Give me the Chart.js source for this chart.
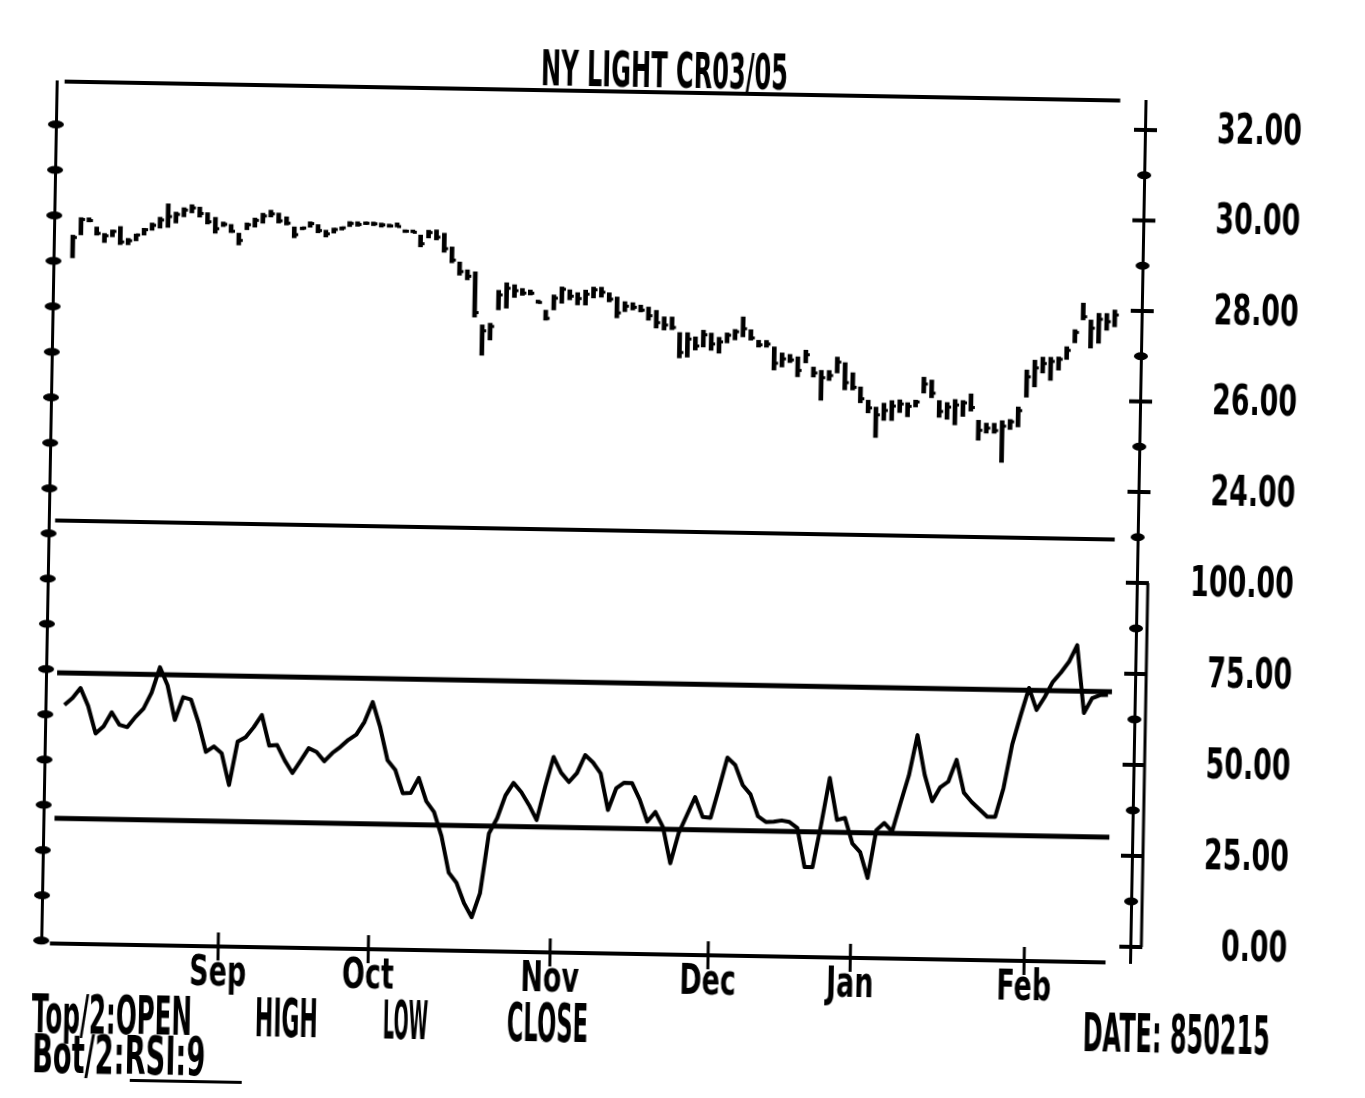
<!DOCTYPE html>
<html>
<head>
<meta charset="utf-8">
<title>NY LIGHT CR03/05</title>
<script src="https://cdn.jsdelivr.net/npm/chart.js@4.4.1/dist/chart.umd.min.js"></script>
<style>
  html, body { margin: 0; padding: 0; background: #fff; overflow: hidden; }
  /* the printout sits a little crooked on the scanner */
  #sheet { position: absolute; left: 0; top: 0; width: 1365px; height: 1098px;
    transform: rotate(1.03deg); transform-origin: 1145px 130px; }
  #myChart { position: absolute; left: 0; top: 0; }
  .txt { position: absolute; font-family: "DejaVu Sans", sans-serif;
    font-weight: bold; color: #000; line-height: 1; white-space: pre; transform-origin: 0 0; }
  .rule { position: absolute; background: #000; }
</style>
</head>
<body>
<div id="sheet">
  <canvas id="myChart" width="1365" height="1098"></canvas>
  <div class="txt" data-w="247" style="left:540px;top:54px;font-size:50px">NY LIGHT CR03/05</div>
  <div class="txt" data-w="160" style="left:48px;top:1007px;font-size:53px">Top/2:OPEN</div>
  <div class="txt" data-w="63" style="left:271px;top:1007px;font-size:53px">HIGH</div>
  <div class="txt" data-w="45" style="left:399px;top:1007px;font-size:53px">LOW</div>
  <div class="txt" data-w="81" style="left:523px;top:1007px;font-size:53px">CLOSE</div>
  <div class="txt" data-w="187" style="left:1099px;top:1007px;font-size:53px">DATE: 850215</div>
  <div class="txt" data-w="173" style="left:49px;top:1047px;font-size:53px">Bot/2:RSI:9</div>
  <div class="rule" style="left:147px;top:1097px;width:112px;height:3px"></div>
</div>

<script>
'use strict';

// x axis: month names and the bar index where each month starts
const monthNames = ['Sep', 'Oct', 'Nov', 'Dec', 'Jan', 'Feb'];
const monthStarts = [20, 39, 62, 82, 100, 122];
// y ticks
const priceTicks = [23, 24, 25, 26, 27, 28, 29, 30, 31, 32];
const rsiTicks = [0, 12.5, 25, 37.5, 50, 62.5, 75, 87.5, 100];
const rsiBands = [70, 30];

// daily bars, Aug 84 to 850215
const highs = [
  29.25, 29.64, 29.64, 29.44, 29.30, 29.38, 29.46, 29.20, 29.30, 29.43,
  29.55, 29.68, 29.98, 29.80, 29.90, 29.97, 29.92, 29.80, 29.70, 29.60,
  29.55, 29.36, 29.59, 29.70, 29.81, 29.88, 29.82, 29.74, 29.52, 29.52,
  29.64, 29.58, 29.46, 29.51, 29.54, 29.66, 29.66, 29.66, 29.66, 29.64,
  29.62, 29.65, 29.50, 29.50, 29.39, 29.50, 29.51, 29.44, 29.14, 28.81,
  28.64, 28.60, 27.43, 27.47, 28.20, 28.37, 28.33, 28.25, 28.22, 28.00,
  27.78, 28.12, 28.30, 28.24, 28.18, 28.24, 28.31, 28.31, 28.19, 28.10,
  28.00, 27.98, 27.93, 27.89, 27.82, 27.68, 27.68, 27.34, 27.34, 27.25,
  27.40, 27.34, 27.25, 27.35, 27.43, 27.71, 27.43, 27.20, 27.20, 27.06,
  26.93, 26.90, 26.85, 27.00, 26.63, 26.56, 26.56, 26.86, 26.74, 26.52,
  26.21, 25.92, 25.77, 25.86, 25.92, 25.94, 25.88, 25.94, 26.45, 26.39,
  25.94, 25.90, 25.97, 25.95, 26.10, 25.52, 25.46, 25.46, 25.52, 25.55,
  25.83, 26.65, 26.87, 26.94, 26.94, 26.95, 27.18, 27.56, 28.15, 27.78,
  27.93, 27.93, 28.01
];
const lows = [
  28.75, 29.26, 29.55, 29.26, 29.10, 29.23, 29.06, 29.06, 29.15, 29.28,
  29.39, 29.44, 29.46, 29.56, 29.70, 29.79, 29.70, 29.55, 29.35, 29.50,
  29.37, 29.10, 29.44, 29.50, 29.59, 29.73, 29.60, 29.56, 29.28, 29.46,
  29.52, 29.40, 29.31, 29.40, 29.47, 29.55, 29.56, 29.60, 29.58, 29.55,
  29.55, 29.56, 29.44, 29.44, 29.13, 29.33, 29.29, 29.02, 28.79, 28.52,
  28.42, 27.60, 26.76, 27.10, 27.77, 27.81, 28.05, 28.10, 28.11, 27.93,
  27.56, 27.79, 27.94, 28.02, 27.91, 27.91, 28.07, 28.09, 27.99, 27.64,
  27.78, 27.82, 27.78, 27.60, 27.43, 27.39, 27.40, 26.78, 26.80, 26.96,
  27.03, 26.96, 26.90, 27.13, 27.20, 27.27, 27.20, 27.05, 27.05, 26.55,
  26.62, 26.72, 26.41, 26.72, 26.41, 25.90, 26.34, 26.51, 26.14, 26.14,
  25.86, 25.64, 25.10, 25.48, 25.48, 25.66, 25.57, 25.79, 26.10, 26.00,
  25.57, 25.53, 25.41, 25.60, 25.72, 25.08, 25.24, 25.24, 24.60, 25.33,
  25.39, 26.05, 26.28, 26.59, 26.43, 26.66, 26.90, 27.27, 27.78, 27.16,
  27.27, 27.56, 27.64
];
const closes = [
  29.20, 29.60, 29.58, 29.30, 29.25, 29.35, 29.12, 29.15, 29.28, 29.40,
  29.50, 29.62, 29.70, 29.75, 29.85, 29.90, 29.78, 29.60, 29.45, 29.55,
  29.40, 29.20, 29.55, 29.65, 29.75, 29.80, 29.65, 29.60, 29.35, 29.50,
  29.60, 29.45, 29.38, 29.48, 29.52, 29.62, 29.60, 29.63, 29.62, 29.60,
  29.58, 29.57, 29.47, 29.45, 29.20, 29.45, 29.35, 29.10, 28.85, 28.60,
  28.50, 27.70, 27.30, 27.40, 28.10, 28.25, 28.20, 28.15, 28.15, 27.95,
  27.60, 28.05, 28.25, 28.10, 28.05, 28.15, 28.25, 28.20, 28.05, 27.75,
  27.90, 27.88, 27.82, 27.70, 27.55, 27.50, 27.45, 26.90, 27.20, 27.05,
  27.30, 27.10, 27.15, 27.30, 27.38, 27.45, 27.25, 27.10, 27.12, 26.70,
  26.80, 26.78, 26.55, 26.90, 26.50, 26.40, 26.45, 26.75, 26.30, 26.20,
  25.95, 25.75, 25.60, 25.70, 25.80, 25.85, 25.80, 25.90, 26.30, 26.10,
  25.70, 25.80, 25.85, 25.90, 25.80, 25.30, 25.35, 25.30, 25.40, 25.50,
  25.75, 26.50, 26.70, 26.80, 26.85, 26.90, 27.10, 27.50, 27.85, 27.60,
  27.80, 27.75, 27.90
];
// RSI:9 on the bottom panel
const rsi9 = [
  61.2, 63.1, 65.9, 61.0, 53.5, 55.5, 59.4, 56.0, 55.4, 58.2,
  60.5, 65.0, 72.0, 67.1, 57.6, 63.9, 63.3, 57.0, 49.0, 50.5,
  48.7, 40.0, 52.0, 53.2, 56.0, 59.4, 51.0, 51.2, 47.0, 43.6,
  47.0, 50.5, 49.5, 47.0, 49.3, 51.0, 53.0, 54.5, 58.0, 63.5,
  56.6, 47.6, 45.0, 38.6, 38.7, 42.9, 36.5, 33.6, 27.0, 17.0,
  14.3, 8.7, 4.9, 11.5, 28.0, 32.2, 38.5, 42.0, 39.5, 36.0,
  31.9, 41.0, 49.3, 45.0, 42.5, 45.0, 50.0, 48.0, 45.0, 35.0,
  41.0, 42.6, 42.5, 38.0, 32.0, 34.7, 30.6, 20.7, 29.0, 34.0,
  39.0, 33.6, 33.4, 41.5, 50.0, 48.0, 42.5, 40.0, 34.0, 32.5,
  32.6, 33.0, 32.6, 31.0, 20.3, 20.3, 32.0, 44.9, 33.4, 34.0,
  27.0, 24.7, 17.6, 30.8, 32.8, 30.5, 38.4, 46.0, 57.1, 46.2,
  39.0, 42.9, 44.5, 50.5, 41.5, 39.0, 37.0, 35.0, 35.0, 43.0,
  55.0, 63.0, 70.6, 64.6, 68.2, 72.4, 75.0, 78.0, 82.6, 64.0,
  68.1, 69.0, 69.1
];

// stretch the html labels to the width they have on the printout
document.querySelectorAll('.txt').forEach(function (el) {
  let w = Number(el.dataset.w);
  el.style.transform = 'scaleX(' + (w / el.offsetWidth) + ')';
});

// the plotter font is tall and narrow: a bold face squeezed sideways
const labelFont = 'bold 42px "DejaVu Sans", sans-serif';
const squeeze = 0.64;

let barData = [];
let rsiData = [];
for (let i = 0; i < highs.length; i++) {
  barData.push({ x: i, y: [lows[i], highs[i]] });
  rsiData.push({ x: i, y: rsi9[i] });
}

let bandSets = rsiBands.map(function (level) {
  return {
    type: 'line',
    yAxisID: 'yR',
    data: [{ x: -1, y: level }, { x: 132.5, y: level }],
    borderColor: '#000',
    borderWidth: 5,
    pointRadius: 0,
    clip: false
  };
});

function hline(ctx, x1, x2, y, w) {
  ctx.lineWidth = w;
  ctx.beginPath();
  ctx.moveTo(x1, y);
  ctx.lineTo(x2, y);
  ctx.stroke();
}

function blob(ctx, x, y, rx, ry) {
  ctx.beginPath();
  ctx.ellipse(x, y, rx, ry, 0, 0, Math.PI * 2);
  ctx.fill();
}

function squeezeText(ctx, text, x, y, align) {
  ctx.save();
  ctx.translate(x, y);
  ctx.scale(squeeze, 1);
  ctx.textAlign = align;
  ctx.textBaseline = 'middle';
  ctx.fillText(text, 0, 0);
  ctx.restore();
}

// panel rules, close ticks, axis marks and the squeezed tick labels
const printFrame = {
  id: 'printFrame',
  afterDraw(chart) {
    const ctx = chart.ctx;
    const area = chart.chartArea;
    const x = chart.scales.x;
    const yP = chart.scales.yP;
    const yR = chart.scales.yR;
    ctx.save();
    ctx.strokeStyle = '#000';
    ctx.fillStyle = '#000';
    ctx.font = labelFont;

    hline(ctx, x.getPixelForValue(-1.4), x.getPixelForValue(132.2), yP.top, 4);
    hline(ctx, x.getPixelForValue(-1.6), x.getPixelForValue(132.5), yP.bottom, 4);
    hline(ctx, x.getPixelForValue(-1.3), x.getPixelForValue(132.3), yR.bottom, 4);

    // close
    ctx.lineWidth = 3;
    for (let i = 0; i < closes.length; i++) {
      let px = x.getPixelForValue(i);
      let py = yP.getPixelForValue(closes[i]);
      ctx.beginPath();
      ctx.moveTo(px, py);
      ctx.lineTo(px + 4, py);
      ctx.stroke();
    }

    // left axis marks
    [chart.scales.yPL, chart.scales.yRL].forEach(function (s) {
      s.ticks.forEach(function (t) {
        blob(ctx, area.left, s.getPixelForValue(t.value), 8, 4);
      });
    });

    // right axis marks, long bar and label where the tick has one
    [yP, yR].forEach(function (s) {
      s.ticks.forEach(function (t) {
        let py = s.getPixelForValue(t.value);
        if (t.label) {
          hline(ctx, area.right - 11, area.right + 12, py, 4);
          squeezeText(ctx, t.label, s.right, py + 1, 'right');
        } else {
          blob(ctx, area.right, py, 7, 4);
        }
      });
    });
    // the narrow box beside the RSI scale
    ctx.lineWidth = 3;
    ctx.beginPath();
    ctx.moveTo(area.right + 11, yR.getPixelForValue(100));
    ctx.lineTo(area.right + 11, yR.getPixelForValue(0));
    ctx.stroke();

    // month marks and names
    x.ticks.forEach(function (t) {
      let px = x.getPixelForValue(t.value);
      ctx.lineWidth = 3;
      ctx.beginPath();
      ctx.moveTo(px, yR.bottom - 14);
      ctx.lineTo(px, yR.bottom + 14);
      ctx.stroke();
      squeezeText(ctx, t.label, px, yR.bottom + 28, 'center');
    });
    ctx.restore();
  }
};

const ctx = document.getElementById('myChart');

new Chart(ctx, {
  type: 'line',
  data: {
    datasets: [
      {
        type: 'bar',
        label: 'High/Low',
        yAxisID: 'yP',
        data: barData,
        backgroundColor: '#000',
        barThickness: 4,
        grouped: false
      },
      {
        type: 'line',
        label: 'RSI:9',
        yAxisID: 'yR',
        data: rsiData,
        borderColor: '#000',
        borderWidth: 4,
        borderJoinStyle: 'round',
        pointRadius: 0,
        tension: 0
      }
    ].concat(bandSets)
  },
  options: {
    responsive: false,
    animation: false,
    devicePixelRatio: 1,
    layout: { padding: { left: 0, right: 63, top: 101, bottom: 0 } },
    plugins: {
      legend: { display: false },
      tooltip: { enabled: false }
    },
    scales: {
      x: {
        type: 'linear',
        position: 'bottom',
        min: -2.4,
        max: 135.4,
        offset: false,
        grid: { display: false, drawTicks: false },
        border: { display: false },
        afterBuildTicks: function (s) {
          s.ticks = monthStarts.map(function (v) { return { value: v }; });
        },
        afterFit: function (s) { s.height = 135; },
        ticks: {
          display: false,
          autoSkip: false,
          callback: function (v) { return monthNames[monthStarts.indexOf(v)]; }
        }
      },
      yP: {
        type: 'linear',
        position: 'right',
        stack: 'right',
        stackWeight: 439,
        min: 22.94,
        max: 32.64,
        grid: { display: false, drawTicks: false },
        border: { display: true, color: '#000', width: 3 },
        afterBuildTicks: function (s) {
          s.ticks = priceTicks.map(function (v) { return { value: v }; });
        },
        afterFit: function (s) { s.width = 157; },
        ticks: {
          display: false,
          autoSkip: false,
          callback: function (v) { return v % 2 === 0 ? v.toFixed(2) : ''; }
        }
      },
      yR: {
        type: 'linear',
        position: 'right',
        stack: 'right',
        stackWeight: 423,
        min: -4.4,
        max: 111.8,
        grid: { display: false, drawTicks: false },
        border: { display: true, color: '#000', width: 3 },
        afterBuildTicks: function (s) {
          s.ticks = rsiTicks.map(function (v) { return { value: v }; });
        },
        afterFit: function (s) { s.width = 157; },
        ticks: {
          display: false,
          autoSkip: false,
          callback: function (v) { return v % 25 === 0 ? v.toFixed(2) : ''; }
        }
      },
      yPL: {
        type: 'linear',
        position: 'left',
        stack: 'left',
        stackWeight: 439,
        min: 22.94,
        max: 32.64,
        grid: { display: false, drawTicks: false },
        border: { display: true, color: '#000', width: 3 },
        afterBuildTicks: function (s) {
          s.ticks = priceTicks.map(function (v) { return { value: v }; });
        },
        afterFit: function (s) { s.width = 56; },
        ticks: { display: false }
      },
      yRL: {
        type: 'linear',
        position: 'left',
        stack: 'left',
        stackWeight: 423,
        min: -4.4,
        max: 111.8,
        grid: { display: false, drawTicks: false },
        border: { display: true, color: '#000', width: 3 },
        afterBuildTicks: function (s) {
          s.ticks = rsiTicks.map(function (v) { return { value: v }; });
        },
        afterFit: function (s) { s.width = 56; },
        ticks: { display: false }
      }
    }
  },
  plugins: [printFrame]
});
</script>
</body>
</html>
